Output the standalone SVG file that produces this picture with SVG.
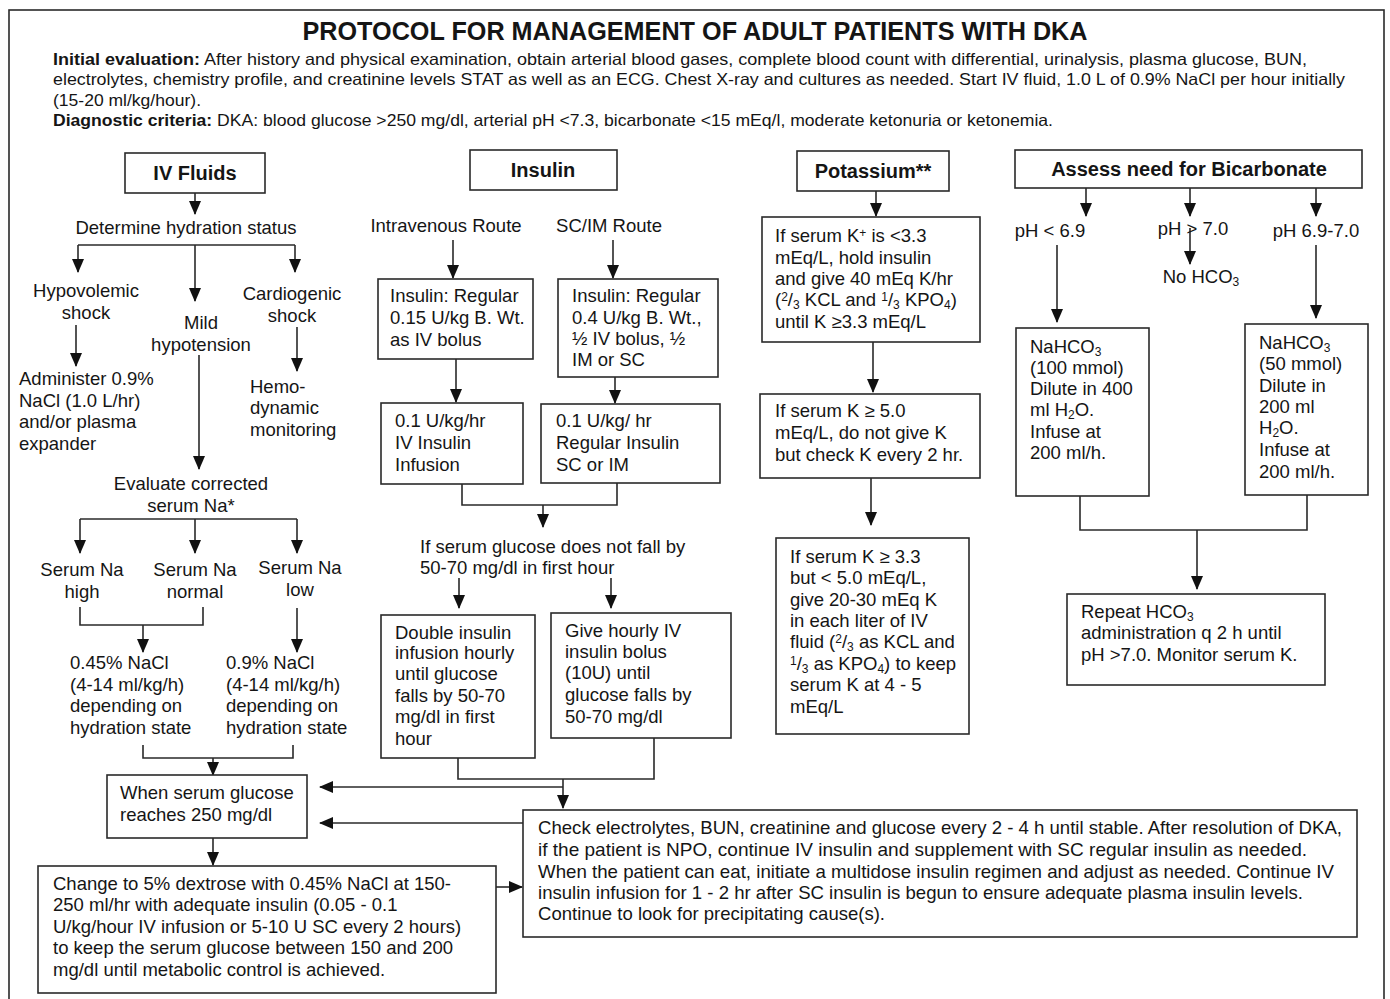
<svg xmlns="http://www.w3.org/2000/svg" width="1390" height="999" viewBox="0 0 1390 999" xml:space="preserve">
<style>
text{font-family:"Liberation Sans",Arial,sans-serif;fill:#151515;font-size:18.5px}
.hd{font-weight:bold;font-size:20px;text-anchor:middle}
.c{text-anchor:middle}
.sm{font-size:16.5px}
.ck{font-size:18.5px}
.b{font-weight:bold}
.box{fill:#fff;stroke:#2a2a2a;stroke-width:1.6}
.ln{fill:none;stroke:#2a2a2a;stroke-width:1.6}
.ar{fill:none;stroke:#2a2a2a;stroke-width:1.6;marker-end:url(#ah)}
.sub{font-size:12px;baseline-shift:-3px}
.sup{font-size:12px;baseline-shift:5px}
</style>
<defs>
<marker id="ah" viewBox="0 0 14 12" refX="13" refY="6" markerWidth="14" markerHeight="12" orient="auto" markerUnits="userSpaceOnUse"><path d="M0,0 L14,6 L0,12 z" fill="#111"/></marker>
</defs>
<rect x="0" y="0" width="1390" height="999" fill="#fff"/>
<rect x="9" y="10" width="1375" height="1005" fill="none" stroke="#2a2a2a" stroke-width="1.6"/>

<g id="header">
<text x="695" y="40" class="b c" style="font-size:25px" textLength="785" lengthAdjust="spacingAndGlyphs">PROTOCOL FOR MANAGEMENT OF ADULT PATIENTS WITH DKA</text>
<text x="53" y="65" class="sm" textLength="1254" lengthAdjust="spacingAndGlyphs"><tspan class="b">Initial evaluation:</tspan>  After history and physical examination, obtain arterial blood gases, complete blood count with differential, urinalysis, plasma glucose, BUN,</text>
<text x="53" y="85" class="sm" textLength="1292" lengthAdjust="spacingAndGlyphs">electrolytes, chemistry profile, and creatinine levels STAT as well as an ECG.  Chest X-ray and cultures as needed.  Start IV fluid, 1.0 L of 0.9% NaCl per hour initially</text>
<text x="53" y="106" class="sm" textLength="148" lengthAdjust="spacingAndGlyphs">(15-20 ml/kg/hour).</text>
<text x="53" y="126" class="sm" textLength="1000" lengthAdjust="spacingAndGlyphs"><tspan class="b">Diagnostic criteria:</tspan> DKA: blood glucose &gt;250 mg/dl, arterial pH &lt;7.3, bicarbonate &lt;15 mEq/l, moderate ketonuria or ketonemia.</text>
</g>

<g id="connectors">
<!-- IV fluids -->
<path class="ar" d="M195,193 V214"/>
<path class="ln" d="M78,245 H295"/>
<path class="ar" d="M78,245 V272"/>
<path class="ar" d="M195,245 V301"/>
<path class="ar" d="M295,245 V272"/>
<path class="ar" d="M76,325 V366"/>
<path class="ar" d="M199,355 V469"/>
<path class="ar" d="M297,327 V371"/>
<path class="ln" d="M80,519 H297"/>
<path class="ar" d="M80,519 V553"/>
<path class="ar" d="M195,519 V553"/>
<path class="ar" d="M297,519 V553"/>
<path class="ln" d="M80,607 V625 H203 V607"/>
<path class="ar" d="M143,625 V652"/>
<path class="ar" d="M297,608 V652"/>
<path class="ln" d="M143,745 V758 H293 V745"/>
<path class="ar" d="M213,758 V775"/>
<path class="ar" d="M213,838 V865"/>
<path class="ar" d="M496,887 H522"/>
<!-- insulin -->
<path class="ar" d="M453,240 V278"/>
<path class="ar" d="M613,240 V278"/>
<path class="ar" d="M456,359 V402"/>
<path class="ar" d="M615,377 V403"/>
<path class="ln" d="M462,484 V505 H617 V483"/>
<path class="ar" d="M543,505 V527"/>
<path class="ar" d="M459,578 V608"/>
<path class="ar" d="M611,578 V608"/>
<path class="ln" d="M458,758 V779 H654 V738"/>
<path class="ar" d="M563,779 V808"/>
<path class="ar" d="M563,787 H320"/>
<path class="ar" d="M523,823 H320"/>
<!-- potassium -->
<path class="ar" d="M876,191 V216"/>
<path class="ar" d="M873,342 V392"/>
<path class="ar" d="M871,478 V525"/>
<!-- bicarbonate -->
<path class="ar" d="M1086,188 V216"/>
<path class="ar" d="M1190,188 V216"/>
<path class="ar" d="M1316,188 V216"/>
<path class="ar" d="M1190,228 V264"/>
<path class="ar" d="M1057,245 V322"/>
<path class="ar" d="M1316,245 V318"/>
<path class="ln" d="M1080,496 V530 H1307 V495"/>
<path class="ar" d="M1197,530 V589"/>
</g>

<g id="iv-fluids">
<rect class="box" x="125" y="153" width="140" height="40"/>
<text x="195" y="180" class="hd">IV Fluids</text>
</g>
<g id="hydration"><text x="186" y="234" class="c">Determine hydration status</text></g>
<g id="hypovolemic"><text x="86" y="297" class="c">Hypovolemic</text><text x="86" y="319" class="c">shock</text></g>
<g id="mild"><text x="201" y="329" class="c">Mild</text><text x="201" y="351" class="c">hypotension</text></g>
<g id="cardiogenic"><text x="292" y="300" class="c">Cardiogenic</text><text x="292" y="322" class="c">shock</text></g>
<g id="administer"><text x="19" y="385">Administer 0.9%</text><text x="19" y="407">NaCl (1.0 L/hr)</text><text x="19" y="428">and/or plasma</text><text x="19" y="450">expander</text></g>
<g id="hemodynamic"><text x="250" y="393">Hemo-</text><text x="250" y="414">dynamic</text><text x="250" y="436">monitoring</text></g>
<g id="evaluate-na"><text x="191" y="490" class="c">Evaluate corrected</text><text x="191" y="512" class="c">serum Na*</text></g>
<g id="na-high"><text x="82" y="576" class="c">Serum Na</text><text x="82" y="598" class="c">high</text></g>
<g id="na-normal"><text x="195" y="576" class="c">Serum Na</text><text x="195" y="598" class="c">normal</text></g>
<g id="na-low"><text x="300" y="574" class="c">Serum Na</text><text x="300" y="596" class="c">low</text></g>
<g id="nacl045"><text x="70" y="669">0.45% NaCl</text><text x="70" y="691">(4-14 ml/kg/h)</text><text x="70" y="712">depending on</text><text x="70" y="734">hydration state</text></g>
<g id="nacl09"><text x="226" y="669">0.9% NaCl</text><text x="226" y="691">(4-14 ml/kg/h)</text><text x="226" y="712">depending on</text><text x="226" y="734">hydration state</text></g>
<g id="glucose250">
<rect class="box" x="107" y="775" width="200" height="63"/>
<text x="120" y="799">When serum glucose</text><text x="120" y="821">reaches 250 mg/dl</text>
</g>
<g id="dextrose">
<rect class="box" x="38" y="866" width="458" height="127"/>
<text x="53" y="890">Change to 5% dextrose with 0.45% NaCl at 150-</text>
<text x="53" y="911">250 ml/hr with adequate insulin (0.05 - 0.1</text>
<text x="53" y="933">U/kg/hour IV infusion or 5-10 U SC every 2 hours)</text>
<text x="53" y="954">to keep the serum glucose between 150 and 200</text>
<text x="53" y="976">mg/dl until metabolic control is achieved.</text>
</g>

<g id="insulin">
<rect class="box" x="470" y="150" width="147" height="40"/>
<text x="543" y="177" class="hd">Insulin</text>
</g>
<g id="iv-route"><text x="446" y="232" class="c">Intravenous Route</text></g>
<g id="scim-route"><text x="609" y="232" class="c">SC/IM Route</text></g>
<g id="iv-bolus">
<rect class="box" x="378" y="279" width="155" height="80"/>
<text x="390" y="302">Insulin: Regular</text><text x="390" y="324">0.15 U/kg B. Wt.</text><text x="390" y="346">as IV bolus</text>
</g>
<g id="scim-bolus">
<rect class="box" x="558" y="279" width="160" height="98"/>
<text x="572" y="302">Insulin: Regular</text><text x="572" y="324">0.4 U/kg B. Wt.,</text><text x="572" y="345">½ IV bolus, ½</text><text x="572" y="366">IM or SC</text>
</g>
<g id="iv-infusion">
<rect class="box" x="381" y="403" width="142" height="81"/>
<text x="395" y="427">0.1 U/kg/hr</text><text x="395" y="449">IV Insulin</text><text x="395" y="471">Infusion</text>
</g>
<g id="scim-regular">
<rect class="box" x="541" y="404" width="179" height="79"/>
<text x="556" y="427">0.1 U/kg/ hr</text><text x="556" y="449">Regular Insulin</text><text x="556" y="471">SC or IM</text>
</g>
<g id="glucose-not-fall"><text x="420" y="553">If serum glucose does not fall by</text><text x="420" y="574">50-70 mg/dl in first hour</text></g>
<g id="double-insulin">
<rect class="box" x="381" y="615" width="154" height="143"/>
<text x="395" y="639">Double insulin</text><text x="395" y="659">infusion hourly</text><text x="395" y="680">until glucose</text><text x="395" y="702">falls by 50-70</text><text x="395" y="723">mg/dl in first</text><text x="395" y="745">hour</text>
</g>
<g id="hourly-bolus">
<rect class="box" x="551" y="613" width="180" height="125"/>
<text x="565" y="637">Give hourly IV</text><text x="565" y="658">insulin bolus</text><text x="565" y="679">(10U) until</text><text x="565" y="701">glucose falls by</text><text x="565" y="723">50-70 mg/dl</text>
</g>
<g id="check-electrolytes">
<rect class="box" x="523" y="810" width="834" height="127"/>
<text x="538" y="834" class="ck" textLength="804" lengthAdjust="spacingAndGlyphs">Check electrolytes, BUN, creatinine and glucose every 2 - 4 h until stable. After resolution of DKA,</text>
<text x="538" y="856" class="ck" textLength="769" lengthAdjust="spacingAndGlyphs">if the patient is NPO, continue IV insulin and supplement with SC regular insulin as needed.</text>
<text x="538" y="878" class="ck" textLength="796" lengthAdjust="spacingAndGlyphs">When the patient can eat, initiate a multidose insulin regimen and adjust as needed.  Continue IV</text>
<text x="538" y="899" class="ck" textLength="765" lengthAdjust="spacingAndGlyphs">insulin infusion for 1 - 2 hr after SC insulin is begun to ensure adequate plasma insulin levels.</text>
<text x="538" y="920" class="ck" textLength="347" lengthAdjust="spacingAndGlyphs">Continue to look for precipitating cause(s).</text>
</g>

<g id="potassium">
<rect class="box" x="797" y="151" width="152" height="40"/>
<text x="873" y="178" class="hd">Potassium**</text>
</g>
<g id="k-low">
<rect class="box" x="762" y="217" width="218" height="125"/>
<text x="775" y="242">If serum K<tspan class="sup">+</tspan> is &lt;3.3</text>
<text x="775" y="264">mEq/L, hold insulin</text>
<text x="775" y="285">and give 40 mEq K/hr</text>
<text x="775" y="306">(<tspan class="sup">2</tspan>/<tspan class="sub">3</tspan> KCL and <tspan class="sup">1</tspan>/<tspan class="sub">3</tspan> KPO<tspan class="sub">4</tspan>)</text>
<text x="775" y="328">until K ≥3.3 mEq/L</text>
</g>
<g id="k-high">
<rect class="box" x="760" y="394" width="220" height="84"/>
<text x="775" y="417">If serum K ≥ 5.0</text><text x="775" y="439">mEq/L, do not give K</text><text x="775" y="461">but check K every 2 hr.</text>
</g>
<g id="k-mid">
<rect class="box" x="776" y="538" width="193" height="196"/>
<text x="790" y="563">If serum K  ≥ 3.3</text>
<text x="790" y="584">but &lt; 5.0 mEq/L,</text>
<text x="790" y="606">give 20-30 mEq K</text>
<text x="790" y="627">in each liter of IV</text>
<text x="790" y="648">fluid (<tspan class="sup">2</tspan>/<tspan class="sub">3</tspan> as KCL and</text>
<text x="790" y="670"><tspan class="sup">1</tspan>/<tspan class="sub">3</tspan> as KPO<tspan class="sub">4</tspan>) to keep</text>
<text x="790" y="691">serum K at 4 - 5</text>
<text x="790" y="713">mEq/L</text>
</g>

<g id="bicarbonate">
<rect class="box" x="1015" y="150" width="347" height="38"/>
<text x="1189" y="176" class="hd">Assess need for Bicarbonate</text>
</g>
<g id="ph-low"><text x="1050" y="237" class="c">pH &lt; 6.9</text></g>
<g id="ph-high"><text x="1193" y="235" class="c">pH &gt; 7.0</text></g>
<g id="ph-mid"><text x="1316" y="237" class="c">pH 6.9-7.0</text></g>
<g id="no-hco3"><text x="1201" y="283" class="c">No HCO<tspan class="sub">3</tspan></text></g>
<g id="nahco3-100">
<rect class="box" x="1016" y="328" width="133" height="168"/>
<text x="1030" y="353">NaHCO<tspan class="sub">3</tspan></text><text x="1030" y="374">(100 mmol)</text><text x="1030" y="395">Dilute in 400</text><text x="1030" y="416">ml H<tspan class="sub">2</tspan>O.</text><text x="1030" y="438">Infuse at</text><text x="1030" y="459">200 ml/h.</text>
</g>
<g id="nahco3-50">
<rect class="box" x="1245" y="324" width="123" height="171"/>
<text x="1259" y="349">NaHCO<tspan class="sub">3</tspan></text><text x="1259" y="370">(50 mmol)</text><text x="1259" y="392">Dilute in</text><text x="1259" y="413">200 ml</text><text x="1259" y="434">H<tspan class="sub">2</tspan>O.</text><text x="1259" y="456">Infuse at</text><text x="1259" y="478">200 ml/h.</text>
</g>
<g id="repeat-hco3">
<rect class="box" x="1067" y="594" width="258" height="91"/>
<text x="1081" y="618">Repeat HCO<tspan class="sub">3</tspan></text><text x="1081" y="639">administration q 2 h until</text><text x="1081" y="661">pH &gt;7.0. Monitor serum K.</text>
</g>
</svg>
